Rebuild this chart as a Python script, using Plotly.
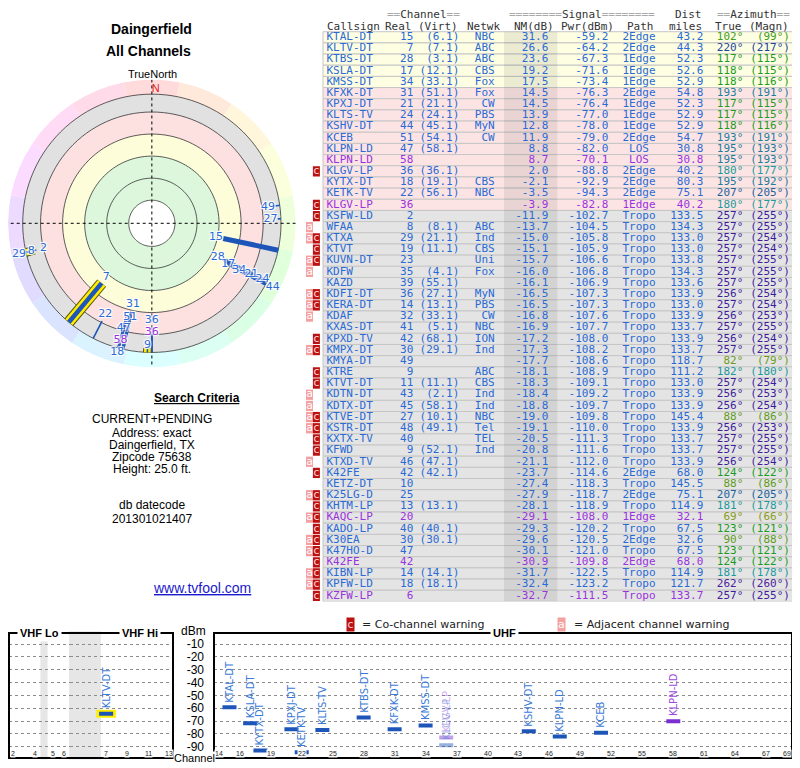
import plotly.graph_objects as go

# the page adds an 8px body margin, so the figure is drawn 8px smaller and all
# reference pixel positions are shifted by that margin
OFF = 8
W, H = 800 - OFF, 768 - OFF

# ---- station list ----
callsign = ["KTAL-DT", "KLTV-DT", "KTBS-DT", "KSLA-DT", "KMSS-DT", "KFXK-DT", "KPXJ-DT", "KLTS-TV",
            "KSHV-DT", "KCEB", "KLPN-LD", "KLPN-LD", "KLGV-LP", "KYTX-DT", "KETK-TV", "KLGV-LP",
            "KSFW-LD", "WFAA", "KTXA", "KTVT", "KUVN-DT", "KDFW", "KAZD", "KDFI-DT", "KERA-DT",
            "KDAF", "KXAS-DT", "KPXD-TV", "KMPX-DT", "KMYA-DT", "KTRE", "KTVT-DT", "KDTN-DT",
            "KDTX-DT", "KTVE-DT", "KSTR-DT", "KXTX-TV", "KFWD", "KTXD-TV", "K42FE", "KETZ-DT",
            "K25LG-D", "KHTM-LP", "KAQC-LP", "KADO-LP", "K30EA", "K47HO-D", "K42FE", "KIBN-LP",
            "KPFW-LD", "KZFW-LP"]
real_ch = [15, 7, 28, 17, 34, 31, 21, 24, 44, 51, 47, 58, 36, 18, 22, 36,
           2, 8, 29, 19, 23, 35, 39, 36, 14, 32, 41, 42, 30, 49, 9, 11, 43,
           45, 27, 48, 40, 9, 46, 42, 10, 25, 13, 20, 40, 30, 47, 42, 14, 18, 6]
virt_ch = ["6.1", "7.1", "3.1", "12.1", "33.1", "51.1", "21.1", "24.1", "45.1", "54.1", "58.1", "", "36.1",
           "19.1", "56.1", "",
           "", "8.1", "21.1", "11.1", "", "4.1", "55.1", "27.1", "13.1", "33.1", "5.1", "68.1", "29.1", "", "",
           "11.1", "2.1",
           "58.1", "10.1", "49.1", "", "52.1", "47.1", "42.1", "", "", "13.1", "", "40.1", "30.1", "", "",
           "14.1", "18.1", ""]
network = ["NBC", "ABC", "ABC", "CBS", "Fox", "Fox", "CW", "PBS", "MyN", "CW", "", "", "", "CBS", "NBC", "",
           "", "ABC", "Ind", "CBS", "Uni", "Fox", "", "MyN", "PBS", "CW", "NBC", "ION", "Ind", "", "ABC", "CBS",
           "Ind",
           "Ind", "NBC", "Tel", "TEL", "Ind", "", "", "", "", "", "", "", "", "", "", "", "", ""]
nm_db = [31.6, 26.6, 23.6, 19.2, 17.5, 14.5, 14.5, 13.9, 12.8, 11.9, 8.8, 8.7, 2.0, -2.1, -3.5, -3.9,
         -11.9, -13.7, -15.0, -15.1, -15.7, -16.0, -16.1, -16.5, -16.5, -16.8, -16.9, -17.2, -17.3, -17.7,
         -18.1, -18.3, -18.4,
         -18.8, -19.0, -19.1, -20.5, -20.8, -21.1, -23.7, -27.4, -27.9, -28.1, -29.1, -29.3, -29.6, -30.1,
         -30.9, -31.7, -32.4, -32.7]
pwr_dbm = [-59.2, -64.2, -67.3, -71.6, -73.4, -76.3, -76.4, -77.0, -78.0, -79.0, -82.0, -70.1, -88.8, -92.9,
           -94.3, -82.8,
           -102.7, -104.5, -105.8, -105.9, -106.6, -106.8, -106.9, -107.3, -107.3, -107.6, -107.7, -108.0,
           -108.2, -108.6, -108.9, -109.1, -109.2,
           -109.7, -109.8, -110.0, -111.3, -111.6, -112.0, -114.6, -118.3, -118.7, -118.9, -108.0, -120.2,
           -120.5, -121.0, -109.8, -122.5, -123.2, -111.5]
path = ["2Edge", "2Edge", "1Edge", "1Edge", "1Edge", "2Edge", "1Edge", "1Edge", "1Edge", "2Edge", "LOS", "LOS",
        "2Edge", "2Edge", "2Edge", "1Edge",
        "Tropo", "Tropo", "Tropo", "Tropo", "Tropo", "Tropo", "Tropo", "Tropo", "Tropo", "Tropo", "Tropo",
        "Tropo", "Tropo", "Tropo", "Tropo", "Tropo", "Tropo",
        "Tropo", "Tropo", "Tropo", "Tropo", "Tropo", "Tropo", "2Edge", "Tropo", "2Edge", "Tropo", "1Edge",
        "Tropo", "2Edge", "Tropo", "2Edge", "Tropo", "Tropo", "Tropo"]
dist_mi = [43.2, 44.3, 52.3, 52.6, 52.9, 54.8, 52.3, 52.9, 52.9, 54.7, 30.8, 30.8, 40.2, 80.3, 75.1, 40.2,
           133.5, 134.3, 133.0, 133.0, 133.8, 134.3, 133.6, 133.9, 133.0, 133.9, 133.7, 133.9, 133.7, 118.7,
           111.2, 133.0, 133.9,
           133.9, 145.4, 133.9, 133.7, 133.7, 133.9, 68.0, 145.5, 75.1, 114.9, 32.1, 67.5, 32.6, 67.5, 68.0,
           114.9, 121.7, 133.7]
az_true = [102, 220, 117, 118, 118, 193, 117, 117, 118, 193, 195, 195, 180, 195, 207, 180,
           257, 257, 257, 257, 257, 257, 257, 256, 257, 256, 257, 256, 257, 82, 182, 257, 256,
           256, 88, 256, 257, 257, 256, 124, 88, 207, 181, 69, 123, 90, 123, 124, 181, 262, 257]
az_magn = [99, 217, 115, 115, 116, 191, 115, 115, 116, 191, 193, 193, 177, 192, 205, 177,
           255, 255, 254, 254, 255, 255, 255, 254, 254, 253, 255, 254, 255, 79, 180, 254, 253,
           254, 86, 253, 255, 255, 254, 122, 86, 205, 178, 66, 121, 88, 121, 122, 178, 260, 255]
pending = [0, 0, 0, 0, 0, 0, 0, 0, 0, 0, 0, 1, 0, 0, 0, 1,
           0, 0, 0, 0, 0, 0, 0, 0, 0, 0, 0, 0, 0, 0, 0, 0, 0,
           0, 0, 0, 0, 0, 0, 0, 0, 0, 0, 1, 0, 0, 0, 1, 0, 0, 1]
warnings = ["", "", "", "", "", "", "", "", "", "", "", "", "c", "", "", "c",
            "c", "a", "ac", "c", "ac", "a", "", "ac", "ac", "a", "", "c", "ac", "", "c", "c", "a",
            "a", "ac", "ac", "c", "c", "a", "c", "", "ac", "c", "ac", "c", "ac", "ac", "c", "ac", "ac", "c"]

# noise margin bands (dB): green / yellow / pink / gray, outer compass ring beyond
ring_edges = [79, 58, 37, 16, -5, -22]
CENTER_NM, OUTER_NM, EDGE_NM = 101, -22, -36
dbm_ticks = [-10, -20, -30, -40, -50, -60, -70, -80, -90]
uhf_tick_ch = [14, 16, 19, 22, 25, 28, 31, 34, 37, 40, 43, 46, 49, 52, 55, 58, 61, 64, 67, 69]
vhf_tick_ch = [2, 4, 5, 6, 7, 9, 11, 13]
vhf_gaps_mhz = [(72, 76), (88, 174)]

BLUE = "#2a6ad4"
PURPLE = "#9933dd"
LINE_BLUE = "#1d55b8"
LINE_PURPLE = "#7a2fcf"
MONO = "DejaVu Sans Mono"
SANS = "Liberation Sans"
HALO = "1px 1px 1px white, -1px -1px 1px white, 1px -1px 1px white, -1px 1px 1px white"

n = len(callsign)
rows = list(range(n))


def band_fill(nm, table=True):
    if nm >= 37:
        return "#e2fbe2" if table else "#dcf7dc"
    if nm >= 16:
        return "#fefee2" if table else "#fdfdda"
    if nm >= -5:
        return "#fde4e4" if table else "#fde1e1"
    return "#e4e4e4" if table else "#e1e1e1"


def az_color(a):
    return f"hsl({a},70%,36%)"


def vhf_center(ch):
    if ch <= 4:
        return 57 + 6 * (ch - 2)
    if ch <= 6:
        return 79 + 6 * (ch - 5)
    return 177 + 6 * (ch - 7)


def fx(x):
    return min(max((x - OFF) / W, 0), 1)


def fy(y):
    return min(max(1 - (y - OFF) / H, 0), 1)


fig = go.Figure()

# ---------------- table ----------------
ROW_H, ROW0 = 11.17, 37.3
T_LEFT, T_RIGHT = 323, 792.7
txt_color = [PURPLE if p else BLUE for p in pending]

fig.add_trace(go.Bar(
    orientation="h", y=rows, x=[T_RIGHT - T_LEFT] * n, base=T_LEFT, width=1,
    marker=dict(color=[band_fill(v) for v in nm_db], line=dict(color="#c6c6c6", width=1)),
    hoverinfo="skip", xaxis="x", yaxis="y"))
fig.add_trace(go.Bar(
    orientation="h", y=rows, x=[53.3] * n, base=504, width=1,
    marker=dict(color="rgba(0,0,0,0.075)", line=dict(width=0)),
    hoverinfo="skip", xaxis="x", yaxis="y"))

for flag, x0, fill, fcol in [("a", 306, "#f3a0a0", "white"), ("c", 312.9, "#bb1111", "#ffd6d6")]:
    rr = [i for i in rows if flag in warnings[i]]
    fig.add_trace(go.Bar(
        orientation="h", y=rr, x=[7] * len(rr), base=x0, width=0.92,
        marker=dict(color=fill, line=dict(width=0)), hoverinfo="skip", xaxis="x", yaxis="y"))
    fig.add_trace(go.Scatter(
        x=[x0 + 3.5] * len(rr), y=rr, mode="text", text=[flag] * len(rr),
        textposition="middle center", textfont=dict(family=MONO, size=11, color=fcol),
        hoverinfo="skip", cliponaxis=False, xaxis="x", yaxis="y"))


def add_col(x, texts, colors, pos):
    fig.add_trace(go.Scatter(
        x=[x] * n, y=rows, mode="text", text=texts, textposition=pos,
        textfont=dict(family=MONO, size=11, color=colors),
        hoverinfo="skip", cliponaxis=False, xaxis="x", yaxis="y"))


add_col(326.5, callsign, txt_color, "middle right")
add_col(413.3, [str(c) for c in real_ch], txt_color, "middle left")
add_col(459.3, [f"({v})" if v else "" for v in virt_ch], txt_color, "middle left")
add_col(494.7, network, txt_color, "middle left")
add_col(548.3, [f"{v:.1f}" for v in nm_db], txt_color, "middle left")
add_col(608.3, [f"{v:.1f}" for v in pwr_dbm], txt_color, "middle left")
add_col(639, path, txt_color, "middle center")
add_col(703.3, [f"{v:.1f}" for v in dist_mi], txt_color, "middle left")
add_col(743.3, [f"{a}°" for a in az_true], [az_color(a) for a in az_true], "middle left")
add_col(790, [f"({a}°)" for a in az_magn], [az_color(a) for a in az_true], "middle left")

EQ = '<span style="color:#a8a8a8">{}</span>'
header = [
    (-2, 423.7, "center", EQ.format("==") + "Channel" + EQ.format("==")),
    (-2, 581.7, "center", EQ.format("========") + "Signal" + EQ.format("========")),
    (-2, 703.3, "right", "Dist"),
    (-2, 753.7, "center", EQ.format("==") + "Azimuth" + EQ.format("==")),
    (-1, 326, "left", "Callsign"),
    (-1, 412.7, "right", "Real"),
    (-1, 459.3, "right", "(Virt)"),
    (-1, 501, "right", "Netwk"),
    (-1, 555, "right", "NM(dB)"),
    (-1, 615, "right", "Pwr(dBm)"),
    (-1, 655, "right", "Path"),
    (-1, 703.3, "right", "miles"),
    (-1, 743.3, "right", "True"),
    (-1, 790, "right", "(Magn)"),
]
annotations = []
for row, x, anchor, text in header:
    annotations.append(dict(x=x, y=row, xref="x", yref="y", text=text, showarrow=False,
                            xanchor=anchor, yanchor="middle", borderpad=0,
                            font=dict(family=MONO, size=11, color="#333333")))

# ---------------- polar plot ----------------
ring_fills = [(ring_edges[i + 1], ring_edges[i]) for i in range(2, 5)] + [(ring_edges[2], ring_edges[0])]
for lo, hi in ring_fills:
    fig.add_trace(go.Barpolar(
        r=[hi - lo], base=lo, theta=[0], width=[360],
        marker=dict(color=band_fill(hi - 0.01, table=False), line=dict(width=0)),
        hoverinfo="skip", subplot="polar"))
sector = 22.5
sectors = [i * sector for i in range(16)]
fig.add_trace(go.Barpolar(
    r=[OUTER_NM - EDGE_NM] * 16, base=EDGE_NM, theta=sectors, width=[sector] * 16,
    marker=dict(color=[f"hsl({s},100%,93%)" for s in sectors], line=dict(width=0)),
    hoverinfo="skip", subplot="polar"))

circle_theta = list(range(0, 361, 3))
for rv in ring_edges:
    fig.add_trace(go.Scatterpolar(
        r=[rv] * len(circle_theta), theta=circle_theta, mode="lines",
        line=dict(color="#333333", width=0.8), hoverinfo="skip", subplot="polar"))
fig.add_trace(go.Scatterpolar(
    r=[EDGE_NM, CENTER_NM, EDGE_NM, None, EDGE_NM, CENTER_NM, EDGE_NM],
    theta=[0, 0, 180, None, 90, 90, 270], mode="lines",
    line=dict(color="black", width=1, dash="dot"), hoverinfo="skip", subplot="polar"))
fig.add_trace(go.Scatterpolar(
    r=[-27], theta=[0], mode="text", text=["N"], textposition="middle right",
    textfont=dict(family=SANS, size=11, color="#e02020"), hoverinfo="skip", subplot="polar"))

drawn = [i for i in rows if nm_db[i] >= OUTER_NM]
for i in sorted(drawn, key=lambda k: nm_db[k]):
    w = 1.6 + max(nm_db[i], 0) / 9
    col = LINE_PURPLE if pending[i] else LINE_BLUE
    seg = dict(r=[nm_db[i], OUTER_NM], theta=[az_true[i], az_true[i]], mode="lines",
               hoverinfo="skip", subplot="polar")
    if 7 <= real_ch[i] <= 13:
        fig.add_trace(go.Scatterpolar(**seg, line=dict(color="#555500", width=w + 7)))
        fig.add_trace(go.Scatterpolar(**seg, line=dict(color="#ffee00", width=w + 5)))
    fig.add_trace(go.Scatterpolar(**seg, line=dict(color=col, width=w)))

# labels sit just inside each line start, pushed outward when neighbours collide
placed = []
lab_r, lab_t, lab_s, lab_c = [], [], [], []
for i in sorted(drawn, key=lambda k: -nm_db[k]):
    r = nm_db[i] + 7
    for az, rr in placed:
        if abs(az - az_true[i]) <= 3 and r > rr - 12:
            r = rr - 12
    placed.append((az_true[i], r))
    if r >= EDGE_NM + 3:
        lab_r.append(r)
        lab_t.append(az_true[i])
        lab_s.append(str(real_ch[i]))
        lab_c.append(BLUE if not pending[i] else PURPLE)
fig.add_trace(go.Scatterpolar(
    r=lab_r, theta=lab_t, mode="text", text=lab_s, textposition="middle center",
    textfont=dict(family="DejaVu Sans", size=11, color=lab_c, shadow=HALO),
    hoverinfo="skip", subplot="polar"))

# ---------------- spectrum panels ----------------
fig.add_trace(go.Scatter(x=[], y=[], xaxis="x2", yaxis="y2"))
shown = [i for i in rows if nm_db[i] >= -5]
for i in shown:
    ch = real_ch[i]
    if ch >= 14:
        xa, xv = "x4", ch
    elif ch >= 7:
        xa, xv = "x3", vhf_center(ch)
    else:
        xa, xv = "x2", vhf_center(ch)
    faded = "c" in warnings[i]
    op = 0.45 if faded else 1
    if 7 <= ch <= 13:
        fig.add_trace(go.Scatter(
            x=[xv], y=[pwr_dbm[i]], mode="markers", xaxis=xa, yaxis="y2", hoverinfo="skip",
            marker=dict(symbol="line-ew", size=14, line=dict(width=8, color="#ffee00"))))
    fig.add_trace(go.Scatter(
        x=[xv], y=[pwr_dbm[i]], mode="markers", xaxis=xa, yaxis="y2", hoverinfo="skip",
        marker=dict(symbol="line-ew", size=10, opacity=op,
                    line=dict(width=4, color=LINE_PURPLE if pending[i] else LINE_BLUE))))
    annotations.append(dict(
        x=xv, y=pwr_dbm[i], xref=xa, yref="y2", text=callsign[i], textangle=-90,
        showarrow=False, xanchor="center", yanchor="bottom", yshift=4, borderpad=0, opacity=op,
        font=dict(family="DejaVu Sans", size=10, color="#9a4ae0" if pending[i] else "#3a7ad6")))

shapes = []
for xa in ["x2", "x3"]:
    for g0, g1 in vhf_gaps_mhz:
        shapes.append(dict(type="rect", xref=xa, yref="y2 domain", x0=g0, x1=g1, y0=0, y1=1,
                           fillcolor="#e6e6e6", line=dict(width=0), layer="below"))
for x0, x1 in [(9, 173), (214, 792)]:
    shapes.append(dict(type="rect", xref="paper", yref="paper", x0=fx(x0), x1=fx(x1),
                       y0=fy(758), y1=fy(633), line=dict(color="black", width=2)))

for ch in uhf_tick_ch:
    annotations.append(dict(x=ch, y=fy(758), xref="x4", yref="paper", text=str(ch), showarrow=False,
                            bgcolor="white", borderpad=0, font=dict(family=SANS, size=7, color="#222")))
for ch in vhf_tick_ch:
    annotations.append(dict(x=vhf_center(ch), y=fy(758), xref="x3" if ch >= 7 else "x2", yref="paper",
                            text=str(ch), showarrow=False, bgcolor="white", borderpad=0,
                            font=dict(family=SANS, size=7, color="#222")))


def note(x, y, text, size=12, color="black", anchor="center", family=SANS, **kw):
    annotations.append(dict(x=fx(x), y=fy(y), xref="paper", yref="paper", text=text, showarrow=False,
                            xanchor=anchor, yanchor="middle", font=dict(family=family, size=size, color=color),
                            **kw))


for x, label in [(39, "VHF Lo"), (139.5, "VHF Hi"), (504, "UHF")]:
    note(x, 633, f"<b>{label}</b>", size=11, bgcolor="white", borderpad=2)
note(193, 631, "dBm")
note(194, 758, "Channel", size=11, bgcolor="white", borderpad=0)

note(151, 28.5, "<b>Daingerfield</b>", size=14)
note(148, 51.5, "<b>All Channels</b>", size=14)
note(152, 74, "TrueNorth", size=11)
annotations.append(dict(x=fx(151.7), y=fy(398), xref="paper", yref="paper", text="<b>Search Criteria</b>",
                        showarrow=False, font=dict(family=SANS, size=12, color="black", lineposition="under")))
for y, t in [(419.3, "CURRENT+PENDING"), (432.5, "Address: exact"), (445, "Daingerfield, TX"),
             (457, "Zipcode 75638"), (469, "Height: 25.0 ft."), (505.5, "db datecode"),
             (519, "201301021407")]:
    note(152, y, t)
annotations.append(dict(x=fx(151), y=fy(597.7), xref="paper", yref="paper", text="www.tvfool.com",
                        showarrow=False,
                        font=dict(family=SANS, size=14, color="#1a1acc", lineposition="under")))

note(350, 624, "c", size=11, color="#ffd6d6", family=MONO, bgcolor="#bb1111", borderpad=0)
note(360, 624, "= Co-channel warning", size=11, color="#222", anchor="left", family="DejaVu Sans")
note(561, 624, "a", size=11, color="white", family=MONO, bgcolor="#f3a0a0", borderpad=0)
note(571.5, 624, "= Adjacent channel warning", size=11, color="#222", anchor="left", family="DejaVu Sans")

fig.update_layout(
    width=W, height=H, margin=dict(l=0, r=0, t=0, b=0),
    paper_bgcolor="white", plot_bgcolor="rgba(0,0,0,0)",
    barmode="overlay", showlegend=False,
    xaxis=dict(domain=[0, 1], range=[OFF, OFF + W], visible=False),
    yaxis=dict(domain=[fy(ROW0 + (n - 0.5) * ROW_H), fy(ROW0 - 2.5 * ROW_H)],
               range=[n - 0.5, -2.5], visible=False),
    xaxis2=dict(domain=[fx(9), fx(70)], range=[54.5, 88.5], visible=False, anchor="y2"),
    xaxis3=dict(domain=[fx(70), fx(173)], range=[156.5, 215], visible=False, anchor="y2"),
    xaxis4=dict(domain=[fx(214), fx(792)], range=[13.5, 69.5], visible=False, anchor="y2"),
    yaxis2=dict(domain=[fy(759.6), fy(631.2)], range=[-100, 0], anchor="x4",
                tickvals=dbm_ticks, ticktext=[str(v) for v in dbm_ticks], ticks="",
                ticklabelstandoff=9, tickfont=dict(family=SANS, size=12, color="black"),
                showgrid=True, gridcolor="#8c8c8c", griddash="dot", gridwidth=1,
                zeroline=False, showline=False),
    polar=dict(domain=dict(x=[fx(151.7 - 144), fx(151.7 + 144)], y=[fy(223.3 + 144), fy(223.3 - 144)]),
               bgcolor="white",
               radialaxis=dict(range=[CENTER_NM, EDGE_NM], visible=False),
               angularaxis=dict(direction="clockwise", rotation=90, visible=False)),
    annotations=annotations,
    shapes=shapes,
)

fig.write_html("out.html")
